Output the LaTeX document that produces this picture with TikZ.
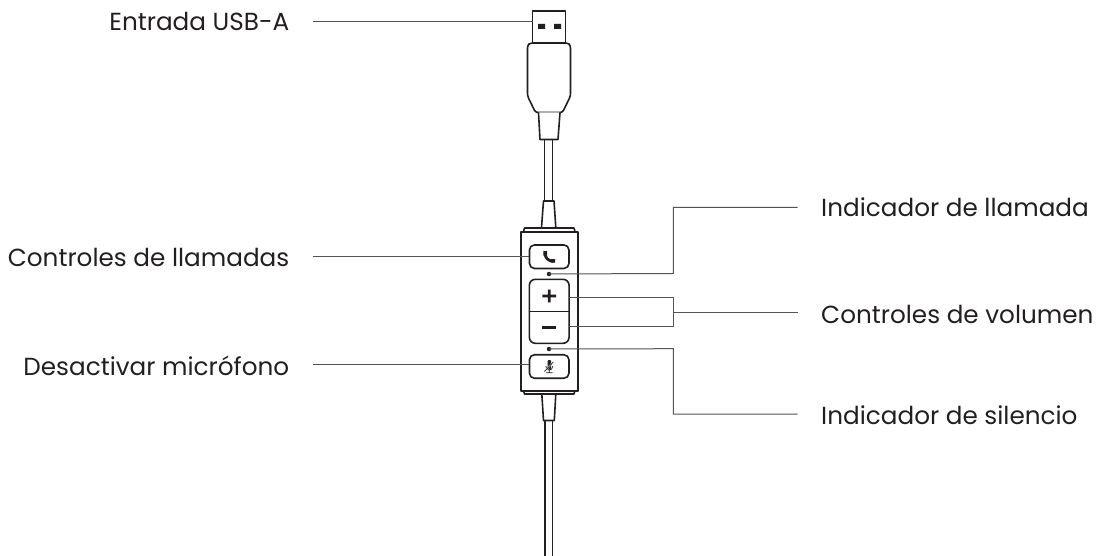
\documentclass[tikz,border=0pt]{standalone}
\usepackage{fontspec}
\setmainfont{Poppins}
\tikzset{
  x=1pt,y=-1pt,
  part/.style={draw=ink,line width=1.6pt,line join=round,fill=white},
  wire/.style={draw=ink,line width=1.5pt},
  lead/.style={draw=leadgray,line width=1pt},
  lbl/.style={font=\fontsize{24.7}{28}\selectfont,text=ink,inner sep=0pt},
  led/.style={circle,fill=ink,inner sep=0pt,minimum size=4.5pt}
}
\definecolor{ink}{HTML}{231F20}
\definecolor{leadgray}{HTML}{555355}
\begin{document}
\begin{tikzpicture}
\useasboundingbox (0,0) rectangle (1100,556);
% cables
\draw[wire] (544.5,139) -- (544.5,201) (552.5,139) -- (552.5,201);
\draw[wire] (545,420) -- (545,556) (552.5,420) -- (552.5,556);
% USB plug
\draw[part] (532.5,11) rectangle (565.5,43);
\fill[ink] (538,24) rectangle (545,29) (554,24) rectangle (561,29);
\draw[part,rounded corners=2.5pt] (530,43) -- (568,43) -- (570.5,45.5) -- (570.5,96) -- (562.5,112.5) -- (535.5,112.5) -- (527.5,96) -- (527.5,45.5) -- cycle;
\draw[part] (538.5,112.5) -- (540,139.5) -- (558,139.5) -- (560,112.5);
% strain reliefs
\draw[part] (541.5,227.5) -- (543.5,201) -- (554,201) -- (555.8,227.5);
\draw[part] (541.8,394) -- (543.5,420.5) -- (554.3,420.5) -- (555.8,394);
% remote body
\draw[part] (523.5,231.5) -- (524.5,228) -- (574,228) -- (575,231.5);
\draw[part] (523.5,390.5) -- (524.5,394) -- (574,394) -- (575,390.5);
\draw[part] (520.8,231.7) rectangle (577.7,390.7);
% buttons
\node[part,rounded corners=5pt,minimum width=39.5pt,minimum height=23.5pt,inner sep=0pt] (call) at (549.2,256.7) {};
\node[part,rounded corners=6pt,minimum width=39.7pt,minimum height=64pt,inner sep=0pt] (vol) at (549.2,311.3) {};
\draw[draw=ink,line width=1.3pt] (vol.west) -- (vol.east);
\node[part,rounded corners=5pt,minimum width=39.5pt,minimum height=23.5pt,inner sep=0pt] (mute) at (549.2,366.5) {};
% icons
\draw[ink,line width=2.8pt,line cap=round] (545,253) .. controls (545.2,258) and (548,261) .. (553.5,261.3);
\fill[ink] (543.3,251) rectangle (547,255.7) (550.5,259) rectangle (555,262.7);
\fill[ink] (542.3,294.6) rectangle (556,297.4) (547.8,289.5) rectangle (550.6,302.3);
\fill[ink] (542,326) rectangle (556,328.7);
\fill[ink,rounded corners=1pt] (547.5,360) rectangle (551,369.5);
\draw[ink,line width=.7pt] (545.8,366) .. controls (545.8,371.5) and (552.8,371.5) .. (552.8,366) (549.3,370.5) -- (549.3,372.5) (546,372.8) -- (552.6,372.8);
\draw[white,line width=1.5pt] (544.5,371.5) -- (553.3,362);
\draw[ink,line width=.8pt] (544.5,371.5) -- (553.3,362);
% LEDs
\node[led] (ledcall) at (549,274) {};
\node[led] (ledmute) at (549,349) {};
% labels
\node[lbl,anchor=base east] (l1) at (289.5,31) {Entrada USB-A};
\node[lbl,anchor=base east] (l2) at (289.5,266.5) {Controles de llamadas};
\node[lbl,anchor=base east] (l3) at (289.5,375) {Desactivar micrófono};
\node[lbl,anchor=base west] (r1) at (821,216.5) {Indicador de llamada};
\node[lbl,anchor=base west] (r2) at (821,323.3) {Controles de volumen};
\node[lbl,anchor=base west] (r3) at (821,424) {Indicador de silencio};
% leaders
\coordinate (s1) at (312.5,22);
\coordinate (s2) at (312.5,256.7);
\coordinate (s3) at (312.5,364.5);
\coordinate (e1) at (797.5,207.5);
\coordinate (e2) at (797.5,312);
\coordinate (e3) at (797.5,414);
\coordinate (plug) at (532.5,22);
\coordinate (volup) at (569,297.3);
\coordinate (voldn) at (569,326.7);
\draw[lead] (s1) -- (plug);
\draw[lead] (s2) -- (call.west |- s2);
\draw[lead] (s3) -- (mute.west |- s3);
\draw[lead] (ledcall.center) -- (673.3,273.5) -- (673.3,207.5) -- (e1);
\draw[lead] (ledmute.center) -- (673.3,348.7) -- (673.3,414) -- (e3);
\draw[lead] (volup) -- (673.3,297.3) -- (673.3,326.7) -- (voldn);
\draw[lead] (673.3,312) -- (e2);
\end{tikzpicture}
\end{document}
